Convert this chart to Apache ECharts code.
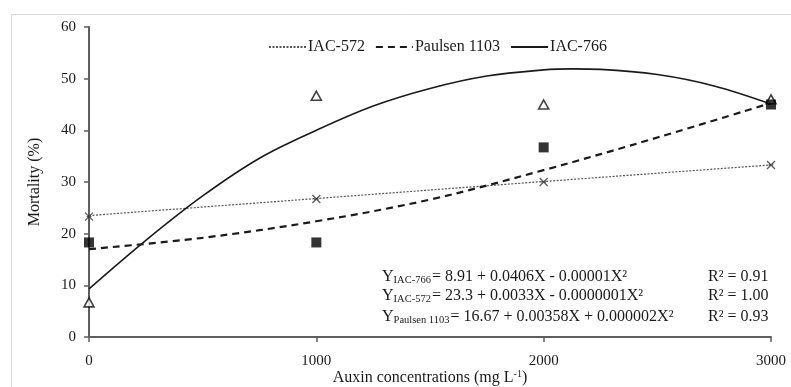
<!DOCTYPE html>
<html>
<head>
<meta charset="utf-8">
<script src="https://cdn.jsdelivr.net/npm/echarts@6/dist/echarts.min.js"></script>
<style>
  html, body { margin: 0; padding: 0; background: #fff; }
  #chart { width: 791px; height: 387px; }
</style>
</head>
<body>
<div id="chart"></div>
<script>
// Auxin doses (mg L-1) and observed mortality (%)
const doses = [0, 1000, 2000, 3000];
const iac572Obs = [23.3, 26.7, 30.0, 33.3];
const paulsenObs = [18.3, 18.3, 36.7, 45.0];
const iac766Obs = [6.7, 46.7, 45.0, 46.0];

// Fitted trend curves, sampled along the dose axis
const iac572FitX = [0, 1000, 2000, 3000];
const iac572Fit = [23.5, 26.8, 30.1, 33.3];
const paulsenFitX = [0, 500, 1000, 1500, 2000, 2500, 3000];
const paulsenFit = [17.0, 19.2, 22.4, 26.6, 32.3, 38.6, 45.3];
const iac766FitX = [0, 250, 500, 750, 1000, 1250, 1500, 1750, 2000, 2125, 2250, 2500, 2750, 3000];
const iac766Fit = [9.3, 18.7, 27.3, 34.6, 40.0, 44.7, 48.1, 50.5, 51.7, 51.9, 51.8, 50.8, 48.6, 45.1];

// Axis ticks
const xTicks = { min: 0, max: 3000, interval: 1000 };
const yTicks = { min: 0, max: 60, interval: 10 };

// Regression equations shown in the lower right
const equations = [
  { sub: 'IAC-766', rhs: '= 8.91 + 0.0406X - 0.00001X²', r2: '0.91' },
  { sub: 'IAC-572', rhs: '= 23.3 + 0.0033X - 0.0000001X²', r2: '1.00' },
  { sub: 'Paulsen 1103', rhs: '= 16.67 + 0.00358X + 0.000002X²', r2: '0.93' }
];

const FONT = '"Liberation Serif", "Times New Roman", serif';
const INK = '#1a1a1a';
const AXIS = '#5e5e5e';

const pairs = (xs, ys) => xs.map((x, i) => [x, ys[i]]);

const chart = echarts.init(document.getElementById('chart'), null, { renderer: 'canvas' });

const eqGraphics = [];
const eqTop = [268, 287, 308];
equations.forEach((eq, i) => {
  eqGraphics.push({
    type: 'text',
    left: 382,
    top: eqTop[i],
    style: {
      text: '{y|Y}{s|' + eq.sub + '}{m|' + eq.rhs + '}',
      rich: {
        y: { fontFamily: FONT, fontSize: 16, fill: INK, lineHeight: 18 },
        s: { fontFamily: FONT, fontSize: 10.5, fill: INK, lineHeight: 18, padding: [7, 1, 0, 0] },
        m: { fontFamily: FONT, fontSize: 16, fill: INK, lineHeight: 18 }
      }
    }
  });
  eqGraphics.push({
    type: 'text',
    left: 708,
    top: eqTop[i],
    style: {
      text: 'R² = ' + eq.r2,
      fontFamily: FONT, fontSize: 16, fill: INK, lineHeight: 18
    }
  });
});

const option = {
  animation: false,
  backgroundColor: '#fff',
  textStyle: { fontFamily: FONT, color: INK },
  grid: { left: 89, right: 20, top: 27, bottom: 50, containLabel: false, outerBoundsMode: 'none' },
  legend: {
    left: 268,
    top: 39,
    padding: 0,
    itemWidth: 37,
    itemHeight: 14,
    itemGap: 10,
    itemStyle: { color: 'transparent', borderWidth: 0, opacity: 0 },
    textStyle: { fontFamily: FONT, fontSize: 16, color: INK, padding: [0, 0, 0, -3] },
    data: ['IAC-572', 'Paulsen 1103', 'IAC-766']
  },
  xAxis: {
    type: 'value',
    min: xTicks.min, max: xTicks.max, interval: xTicks.interval,
    name: 'Auxin concentrations (mg L{sup|-1})',
    nameLocation: 'middle',
    nameGap: 32,
    nameMoveOverlap: false,
    nameTextStyle: {
      fontFamily: FONT, fontSize: 16, color: INK,
      rich: { sup: { fontFamily: FONT, fontSize: 10, color: INK, padding: [0, 0, 7, 0] } }
    },
    axisLine: { show: true, onZero: false, lineStyle: { color: AXIS, width: 2 } },
    axisTick: { show: true, length: 5, lineStyle: { color: AXIS, width: 1.5 } },
    axisLabel: {
      fontFamily: FONT, fontSize: 15, color: INK, margin: 17,
      formatter: v => String(v)
    },
    splitLine: { show: false }
  },
  yAxis: {
    type: 'value',
    min: yTicks.min, max: yTicks.max, interval: yTicks.interval,
    name: 'Mortality (%)',
    nameLocation: 'middle',
    nameGap: 46,
    nameRotate: 90,
    nameMoveOverlap: false,
    nameTextStyle: { fontFamily: FONT, fontSize: 16, color: INK },
    axisLine: { show: true, onZero: false, lineStyle: { color: AXIS, width: 2 } },
    axisTick: { show: true, length: 5, lineStyle: { color: AXIS, width: 1.5 } },
    axisLabel: { fontFamily: FONT, fontSize: 15, color: INK, margin: 13 },
    splitLine: { show: false }
  },
  graphic: [
    {
      type: 'rect',
      left: 9, top: 12,
      shape: { width: 900, height: 500 },
      style: { fill: 'none', stroke: '#d8d8d8', lineWidth: 1 },
      silent: true
    }
  ].concat(eqGraphics),
  series: [
    {
      name: 'IAC-572',
      type: 'line',
      data: pairs(iac572FitX, iac572Fit),
      showSymbol: false, symbol: 'none',
      itemStyle: { color: '#555' },
      lineStyle: { color: '#555', width: 1.2, type: [2, 1.5] },
      z: 2
    },
    {
      name: 'Paulsen 1103',
      type: 'line',
      data: pairs(paulsenFitX, paulsenFit),
      smooth: 0.35,
      showSymbol: false, symbol: 'none',
      itemStyle: { color: '#1a1a1a' },
      lineStyle: { color: '#1a1a1a', width: 2.2, type: [7, 5] },
      z: 2
    },
    {
      name: 'IAC-766',
      type: 'line',
      data: pairs(iac766FitX, iac766Fit),
      smooth: 0.35,
      showSymbol: false, symbol: 'none',
      itemStyle: { color: '#1a1a1a' },
      lineStyle: { color: '#1a1a1a', width: 1.6 },
      z: 2
    },
    {
      name: 'IAC-766 obs',
      type: 'scatter',
      data: pairs(doses, iac766Obs),
      symbol: 'triangle',
      symbolSize: [10, 9],
      itemStyle: { color: '#fff', borderColor: '#111', borderWidth: 1.6 },
      z: 3
    },
    {
      name: 'Paulsen obs',
      type: 'scatter',
      data: pairs(doses, paulsenObs),
      symbol: 'rect',
      symbolSize: 10,
      itemStyle: { color: '#000' },
      z: 4
    },
    {
      name: 'IAC-572 obs',
      type: 'scatter',
      data: pairs(doses, iac572Obs),
      symbol: 'path://M0,0L10,10M10,0L0,10M2,5L8,5',
      symbolSize: 8,
      itemStyle: { color: 'transparent', borderColor: '#333', borderWidth: 1.3 },
      z: 4
    }
  ]
};

chart.setOption(option);
</script>
</body>
</html>
